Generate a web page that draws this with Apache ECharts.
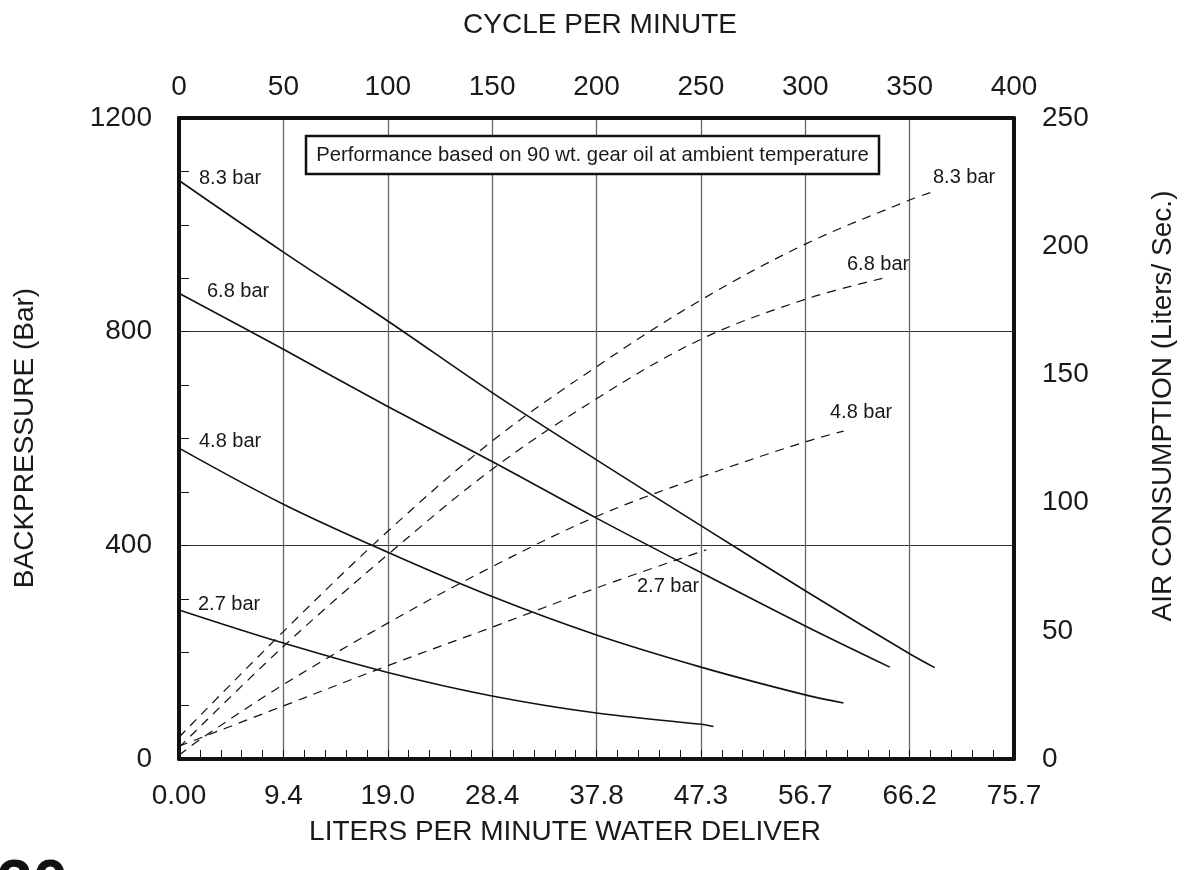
<!DOCTYPE html>
<html>
<head>
<meta charset="utf-8">
<script src="https://cdn.jsdelivr.net/npm/echarts@6/dist/echarts.min.js"></script>
<style>
html,body{margin:0;padding:0;background:#fff;}
#chart{width:1185px;height:870px;}
</style>
</head>
<body>
<div id="chart"></div>
<script>
// Bottom axis tick labels (liters per minute), aligned with the cycle ticks 0..400 step 50
const litersLabels = ['0.00','9.4','19.0','28.4','37.8','47.3','56.7','66.2','75.7'];
const cycleLabels = ['0','50','100','150','200','250','300','350','400'];

// Backpressure curves (x = cycles per minute, y = backpressure, left axis)
const bp83 = [[0,1083],[50,949],[100,820],[150,686],[200,560],[250,437],[300,315],[350,197],[362,171]];
const bp68 = [[0,872],[50,767],[100,660],[150,557],[200,451],[250,349],[300,249],[340.5,172]];
const bp48 = [[0,582],[50,477],[100,387],[150,304],[200,232],[250,172],[300,120],[318.3,105]];
const bp27 = [[0,279],[50,217],[100,162],[150,118],[200,86],[250,65],[256,61]];

// Air consumption curves (x = cycles per minute, y = liters/sec, right axis)
const air83 = [[0,8.5],[50,49.7],[100,88.8],[150,124],[200,153],[250,179],[300,200.8],[350,218],[362.4,221.6]];
const air68 = [[0,4.5],[50,43.9],[100,79.7],[150,113],[200,140.5],[250,163.7],[300,179.3],[337.3,187.5]];
const air48 = [[0,1.5],[12.5,9],[50,29],[100,53],[150,75],[200,94.6],[250,110],[300,123.7],[318.4,127.9]];
const air27 = [[0,5],[50,20.7],[100,36.4],[150,51.4],[200,66.7],[252.6,81.6]];

const FONT = '"Liberation Sans", Arial, Helvetica, sans-serif';
const TXT = '#1a1a1a';

const chart = echarts.init(document.getElementById('chart'), null, {renderer:'canvas'});

function solid(name, data){
  return {name:name, type:'line', xAxisIndex:0, yAxisIndex:0, data:data, smooth:0.35,
    symbol:'none', lineStyle:{color:'#111', width:1.6}, z:5, silent:true};
}
function dashed(name, data){
  return {name:name, type:'line', xAxisIndex:0, yAxisIndex:1, data:data, smooth:0.35,
    symbol:'none', lineStyle:{color:'#111', width:1.2, type:[9,7]}, z:5, silent:true};
}
function label(text, x, y, size){
  return {type:'text', x:x, y:y, z:50,
    style:{text:text, font:(size||20)+'px '+FONT, fill:TXT, textAlign:'left', textVerticalAlign:'middle', align:'left', verticalAlign:'middle'}};
}
function title(text, x, y, rot){
  return {type:'text', x:x, y:y, rotation:rot||0, z:50,
    style:{text:text, font:'28px '+FONT, fill:TXT, textAlign:'center', textVerticalAlign:'middle', align:'center', verticalAlign:'middle'}};
}

const option = {
  animation:false,
  backgroundColor:'#fff',
  grid:{left:179, right:171, top:118, bottom:111, containLabel:false},
  xAxis:[
    {type:'value', position:'bottom', min:0, max:400, interval:50,
      axisLine:{show:true, onZero:false, lineStyle:{color:'#111', width:4}},
      axisTick:{show:true, inside:true, length:9, lineStyle:{color:'#111', width:1}},
      minorTick:{show:true, splitNumber:5, length:9, lineStyle:{color:'#111', width:1}},
      splitLine:{show:true, lineStyle:{color:'#666', width:1.3}},
      axisLabel:{margin:23, fontSize:28, fontFamily:FONT, color:TXT,
        formatter:function(v){return litersLabels[Math.round(v/50)];}}
    },
    {type:'value', position:'top', min:0, max:400, interval:50,
      axisLine:{show:true, onZero:false, lineStyle:{color:'#111', width:4}},
      axisTick:{show:false}, minorTick:{show:false}, splitLine:{show:false},
      axisLabel:{margin:17, fontSize:28, fontFamily:FONT, color:TXT,
        formatter:function(v){return cycleLabels[Math.round(v/50)];}}
    }
  ],
  yAxis:[
    {type:'value', position:'left', min:0, max:1200, interval:400,
      axisLine:{show:true, onZero:false, lineStyle:{color:'#111', width:4}},
      axisTick:{show:true, inside:true, length:10, lineStyle:{color:'#111', width:1}},
      minorTick:{show:true, splitNumber:4, length:10, lineStyle:{color:'#111', width:1}},
      splitLine:{show:true, lineStyle:{color:'#333', width:1.2}},
      axisLabel:{margin:27, fontSize:28, fontFamily:FONT, color:TXT,
        formatter:function(v){return String(v);}}
    },
    {type:'value', position:'right', min:0, max:250, interval:50,
      axisLine:{show:true, onZero:false, lineStyle:{color:'#111', width:4}},
      axisTick:{show:false}, minorTick:{show:false}, splitLine:{show:false},
      axisLabel:{margin:28, fontSize:28, fontFamily:FONT, color:TXT,
        formatter:function(v){return String(v);}}
    }
  ],
  series:[
    solid('8.3 bar', bp83), solid('6.8 bar', bp68), solid('4.8 bar', bp48), solid('2.7 bar', bp27),
    dashed('8.3 bar air', air83), dashed('6.8 bar air', air68), dashed('4.8 bar air', air48), dashed('2.7 bar air', air27)
  ],
  graphic:[
    title('CYCLE PER MINUTE', 600, 25),
    title('LITERS PER MINUTE WATER DELIVER', 565, 832),
    title('BACKPRESSURE (Bar)', 25, 438, Math.PI/2),
    title('AIR CONSUMPTION (Liters/ Sec.)', 1163, 406, Math.PI/2),
    {type:'rect', shape:{x:306, y:136, width:573, height:38}, z:40,
      style:{fill:'#fff', stroke:'#111', lineWidth:2.5}},
    {type:'text', x:592.5, y:155.5, z:50,
      style:{text:'Performance based on 90 wt. gear oil at ambient temperature', font:'20.3px '+FONT, fill:TXT, textAlign:'center', textVerticalAlign:'middle', align:'center', verticalAlign:'middle'}},
    label('8.3 bar', 199, 178), label('6.8 bar', 207, 291), label('4.8 bar', 199, 441), label('2.7 bar', 198, 604),
    label('8.3 bar', 933, 177), label('6.8 bar', 847, 264), label('4.8 bar', 830, 412), label('2.7 bar', 637, 586),
    {type:'text', x:-3, y:887, z:50,
      style:{text:'30', font:'bold 64px '+FONT, fill:'#111', textAlign:'left', textVerticalAlign:'middle', align:'left', verticalAlign:'middle'}}
  ]
};
chart.setOption(option);
</script>
</body>
</html>
